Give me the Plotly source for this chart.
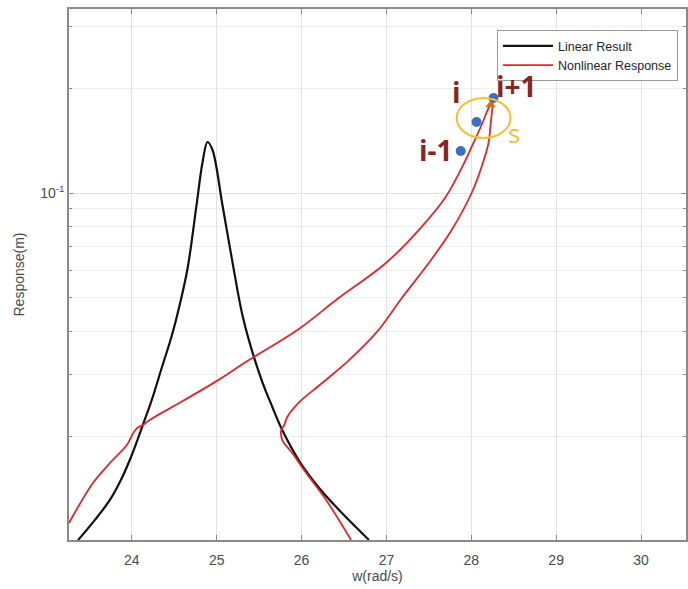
import math
import plotly.graph_objects as go

# Linear result (black)
lin_w = [23.366, 23.554, 23.742, 23.883, 24.0, 24.117, 24.235, 24.352, 24.470, 24.564, 24.658,
         24.763, 24.834, 24.892, 24.951, 25.068, 25.186, 25.303, 25.421, 25.538, 25.656, 25.761,
         25.973, 26.207, 26.442, 26.794]
lin_r = [0.01006, 0.01141, 0.01312, 0.01517, 0.01767, 0.02112, 0.02542, 0.03141, 0.03882, 0.04767,
         0.06088, 0.0924, 0.1228, 0.1401, 0.1329, 0.0924, 0.0633, 0.0446, 0.03491, 0.02863, 0.02427,
         0.02112, 0.01698, 0.01420, 0.01228, 0.01007]

# Nonlinear response (red), folded curve
nl_w = [23.260, 23.542, 23.742, 23.941, 24.012, 24.059, 24.129, 24.211, 24.599, 24.998,
        25.362, 25.973, 26.407, 26.994, 27.381, 27.698, 27.933, 28.004, 28.121, 28.203, 28.250,
        28.227, 28.203, 28.121, 28.004, 27.769, 27.499, 27.182, 26.888, 26.560, 26.243, 25.973,
        25.832, 25.796, 25.761, 25.773, 25.890, 26.055, 26.290, 26.583]
nl_r = [0.01127, 0.01468, 0.01675, 0.01887, 0.02034, 0.02107, 0.02154, 0.02227, 0.02524, 0.02880,
        0.03290, 0.04075, 0.04926, 0.06294, 0.07826, 0.09739, 0.1244, 0.1356, 0.1568, 0.1754, 0.1850,
        0.1568, 0.1392, 0.1188, 0.1000, 0.0783, 0.0629, 0.04993, 0.03988, 0.0331, 0.02844, 0.02507,
        0.02272, 0.02154, 0.02084, 0.01950, 0.01790, 0.01568, 0.01312, 0.01007]

# Continuation points
pt_w = [27.875, 28.062, 28.262]
pt_r = [0.1320, 0.1600, 0.1875]
pt_labels = ["i-1", "i", "i+1"]
label_w = [27.581, 27.828, 28.53]
label_r = [0.1329, 0.1951, 0.2030]
pred_w = [28.227]
pred_r = [0.179]
circle_w = [27.828, 28.462]
circle_r = [0.1439, 0.1875]
s_w, s_r = 28.509, 0.1487

x_ticks = [24, 25, 26, 27, 28, 29, 30]
y_major = [0.01, 0.1]
y_major_text = ["10<sup>-2</sup>", "10<sup>-1</sup>"]
y_minor = [0.02, 0.03, 0.04, 0.05, 0.06, 0.07, 0.08, 0.09, 0.2, 0.3]

fig = go.Figure()
fig.add_trace(go.Scatter(x=lin_w, y=lin_r, mode="lines", name="Linear Result",
                         line=dict(color="#111111", width=2.2, shape="spline", smoothing=1.0)))
fig.add_trace(go.Scatter(x=nl_w, y=nl_r, mode="lines", name="Nonlinear Response",
                         line=dict(color="#e3262b", width=1.8, shape="spline", smoothing=1.0)))
fig.add_trace(go.Scatter(x=pt_w, y=pt_r, mode="markers", showlegend=False,
                         marker=dict(color="#3a6fc4", size=10, line=dict(width=0))))
fig.add_trace(go.Scatter(x=pred_w, y=pred_r, mode="markers", showlegend=False,
                         marker=dict(color="#e36c09", size=9, symbol="triangle-up", line=dict(width=0))))

fig.add_shape(type="circle", xref="x", yref="y",
              x0=circle_w[0], x1=circle_w[1],
              y0=circle_r[0], y1=circle_r[1],
              line=dict(color="#f2c12e", width=2))

for lw, lr, t in zip(label_w, label_r, pt_labels):
    fig.add_annotation(x=lw, y=math.log10(lr), text="<b>%s</b>" % t, showarrow=False,
                       font=dict(family="Open Sans", size=28, color="#8b2323"))
fig.add_annotation(x=s_w, y=math.log10(s_r), text="s", showarrow=False,
                   font=dict(family="Open Sans", size=26, color="#f2c12e"))

axis_common = dict(showline=True, linecolor="#8a8a8a", linewidth=1.5, mirror="ticks",
                   ticks="inside", ticklen=5, tickcolor="#8a8a8a",
                   showgrid=True, gridcolor="#e3e3e3", gridwidth=1, zeroline=False,
                   tickfont=dict(family="Liberation Sans", size=14, color="#4a4a4a"))

fig.update_xaxes(range=[23.26, 30.53], tickvals=x_ticks, ticklabelstandoff=6,
                 title=dict(text="w(rad/s)", font=dict(family="Liberation Sans", size=14, color="#4a4a4a"),
                            standoff=4),
                 **axis_common)
fig.update_yaxes(type="log", range=[-1.9971, -0.4713], tickvals=y_major, ticktext=y_major_text,
                 minor=dict(tickvals=y_minor, ticks="inside", ticklen=3, tickcolor="#8a8a8a",
                            showgrid=True, gridcolor="#efefef"),
                 title=dict(text="Response(m)", font=dict(family="Liberation Sans", size=14, color="#4a4a4a"),
                            standoff=12),
                 **axis_common)

fig.update_layout(
    width=688, height=589,
    margin=dict(l=69, r=0, t=9, b=49),
    plot_bgcolor="white", paper_bgcolor="white",
    showlegend=True,
    legend=dict(x=0.987, y=0.96, xanchor="right", yanchor="top",
                bgcolor="white", bordercolor="#9a9a9a", borderwidth=1,
                font=dict(family="Liberation Sans", size=12.5, color="#262626"),
                tracegroupgap=0, itemwidth=50),
)

fig.write_html("out.html")
